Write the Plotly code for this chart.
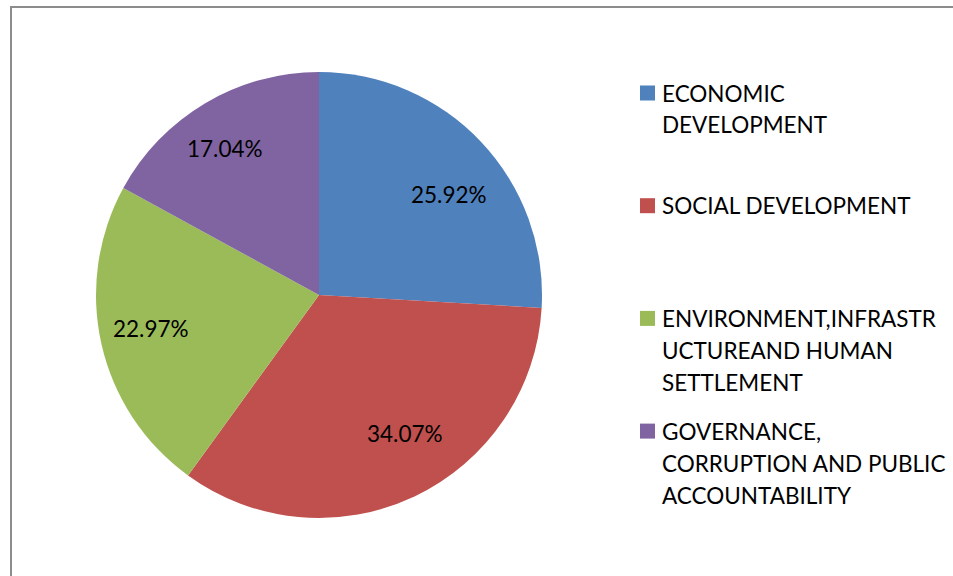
import plotly.graph_objects as go

# Share of items per development pillar
categories = [
    "ECONOMIC DEVELOPMENT",
    "SOCIAL DEVELOPMENT",
    "ENVIRONMENT,INFRASTRUCTUREAND HUMAN SETTLEMENT",
    "GOVERNANCE, CORRUPTION AND PUBLIC ACCOUNTABILITY",
]
shares = [25.92, 34.07, 22.97, 17.04]
colors = ["#4F81BD", "#C0504D", "#9BBB59", "#8064A2"]

# Legend text as it wraps in the key on the right
legend_lines = [
    ["ECONOMIC", "DEVELOPMENT"],
    ["SOCIAL DEVELOPMENT"],
    ["ENVIRONMENT,INFRASTR", "UCTUREAND HUMAN", "SETTLEMENT"],
    ["GOVERNANCE,", "CORRUPTION AND PUBLIC", "ACCOUNTABILITY"],
]

W, H = 953, 576
FONT = "Lato"
FS = 22.5

# Pixel anchors of the data labels (best-fit placement inside each slice)
label_anchor_px = [(449, 194), (405, 433), (151, 328), (225, 148)]


def px(x):
    return x / W


def py(y):
    return 1 - y / H


fig = go.Figure(
    go.Pie(
        labels=categories,
        values=shares,
        sort=False,
        direction="clockwise",
        rotation=0,
        marker=dict(colors=colors, line=dict(width=0)),
        textinfo="none",
        domain=dict(x=[px(96), px(542)], y=[py(518), py(72)]),
        showlegend=False,
        hoverinfo="label+percent",
    )
)

annotations = []
shapes = []

# Percentage labels on the slices
for v, (ax, ay) in zip(shares, label_anchor_px):
    annotations.append(dict(
        text=f"{v:.2f}%", xref="paper", yref="paper",
        x=px(ax), y=py(ay), xanchor="center", yanchor="middle",
        showarrow=False,
        font=dict(family=FONT, size=FS, color="#000000"),
    ))

# Legend key
item_top = 93
item_gap = 112.7
line_gap = 32
for k, lines in enumerate(legend_lines):
    y0 = item_top + k * item_gap
    shapes.append(dict(
        type="rect", xref="paper", yref="paper",
        x0=px(640), x1=px(655), y0=py(y0 + 7.5), y1=py(y0 - 7.5),
        fillcolor=colors[k], line=dict(width=0),
    ))
    for j, txt in enumerate(lines):
        annotations.append(dict(
            text=txt, xref="paper", yref="paper",
            x=px(660), y=py(y0 + j * line_gap),
            xanchor="left", yanchor="middle", showarrow=False,
            font=dict(family=FONT, size=FS, color="#000000"),
        ))

# Chart frame
shapes.append(dict(
    type="rect", xref="paper", yref="paper",
    x0=px(11), x1=px(W + 10), y0=py(H + 10), y1=py(7),
    line=dict(color="#8C8C8C", width=2), fillcolor="rgba(0,0,0,0)",
))

fig.update_layout(
    width=W, height=H,
    margin=dict(l=0, r=0, t=0, b=0),
    paper_bgcolor="#FFFFFF",
    plot_bgcolor="#FFFFFF",
    font=dict(family=FONT, size=FS, color="#000000"),
    annotations=annotations,
    shapes=shapes,
)

fig.write_html("out.html")
